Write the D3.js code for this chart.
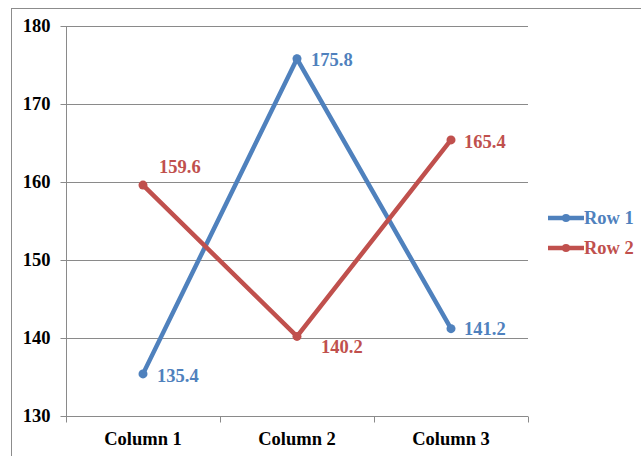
<!DOCTYPE html>
<html>
<head>
<meta charset="utf-8">
<script src="https://cdn.jsdelivr.net/npm/d3@7"></script>
<style>
  body { margin: 0; background: #fff; }
  svg text { font-family: "Liberation Serif", "Times New Roman", serif; font-weight: bold; }
</style>
</head>
<body>
<div id="chart"></div>
<script>
const categories = ['Column 1', 'Column 2', 'Column 3'];
const row1 = [135.4, 175.8, 141.2];
const row2 = [159.6, 140.2, 165.4];
const yTicks = [130, 140, 150, 160, 170, 180];

const w = 641, h = 456;
const padLeft = 66, padRight = 528, padTop = 26, padBottom = 416;
const fontSize = 18.5;

const svg = d3.select('#chart').append('svg')
    .attr('width', w)
    .attr('height', h);

// outer chart border
svg.append('rect')
    .attr('x', 11.5).attr('y', 8.5)
    .attr('width', 700).attr('height', 600)
    .attr('fill', 'none')
    .attr('stroke', '#8c8c8c');

const x = d3.scaleBand().domain(categories).range([padLeft, padRight]);
const y = d3.scaleLinear().domain([130, 180]).range([padBottom, padTop]);
const cx = d => x(d) + x.bandwidth() / 2;

// gridlines
svg.append('g').selectAll('line')
    .data(yTicks.slice(1))
    .enter().append('line')
    .attr('x1', padLeft).attr('x2', padRight)
    .attr('y1', d => y(d) + 0.5).attr('y2', d => y(d) + 0.5)
    .attr('stroke', '#8a8a8a');

const yAxis = d3.axisLeft(y).tickValues(yTicks).tickSize(6).tickPadding(10).tickFormat(d3.format('d'));
svg.append('g')
    .attr('transform', 'translate(' + (padLeft + 0.5) + ',0)')
    .call(yAxis)
    .attr('font-family', null)
    .attr('font-size', null)
    .call(g => g.selectAll('line, path').attr('stroke', '#8a8a8a'))
    .call(g => g.select('.domain').attr('d', 'M0,' + padTop + 'V' + padBottom))
    .call(g => g.selectAll('text').attr('font-size', fontSize).attr('fill', '#000'));

// x axis with separators at band edges
const xg = svg.append('g').attr('transform', 'translate(0,' + (padBottom + 0.5) + ')');
xg.append('line').attr('x1', padLeft).attr('x2', padRight).attr('stroke', '#8a8a8a');
xg.selectAll('.sep')
    .data(categories.concat(['end']))
    .enter().append('line')
    .attr('x1', (d, i) => padLeft + i * x.bandwidth() + 0.5)
    .attr('x2', (d, i) => padLeft + i * x.bandwidth() + 0.5)
    .attr('y1', 0).attr('y2', 6)
    .attr('stroke', '#8a8a8a');
xg.selectAll('text')
    .data(categories)
    .enter().append('text')
    .attr('x', cx)
    .attr('y', 28)
    .attr('text-anchor', 'middle')
    .attr('font-size', fontSize)
    .text(d => d);

const series = [
    { name: 'Row 1', values: row1, color: '#4f81bd', offs: [[14, 8], [14, 7], [13, 6]] },
    { name: 'Row 2', values: row2, color: '#c0504d', offs: [[16, -12], [24, 17], [13, 8]] }
];

const line = d3.line().x((d, i) => cx(categories[i])).y(d => y(d));

series.forEach(s => {
    svg.append('path')
        .datum(s.values)
        .attr('d', line)
        .attr('fill', 'none')
        .attr('stroke', s.color)
        .attr('stroke-width', 4.5)
        .attr('stroke-linejoin', 'miter');
    svg.append('g').selectAll('circle')
        .data(s.values)
        .enter().append('circle')
        .attr('cx', (d, i) => cx(categories[i]))
        .attr('cy', d => y(d))
        .attr('r', 4.5)
        .attr('fill', s.color);
    svg.append('g').selectAll('text')
        .data(s.values)
        .enter().append('text')
        .attr('x', (d, i) => cx(categories[i]) + s.offs[i][0])
        .attr('y', (d, i) => y(d) + s.offs[i][1])
        .attr('font-size', fontSize)
        .attr('fill', s.color)
        .text(d => d3.format('.1f')(d));
});

// legend
const legend = svg.append('g').selectAll('g')
    .data(series)
    .enter().append('g')
    .attr('transform', (d, i) => 'translate(548,' + (218 + i * 30) + ')');
legend.append('line')
    .attr('x1', 0).attr('x2', 36)
    .attr('stroke', d => d.color)
    .attr('stroke-width', 4.5);
legend.append('circle')
    .attr('cx', 18).attr('r', 4)
    .attr('fill', d => d.color);
legend.append('text')
    .attr('x', 36).attr('y', 6)
    .attr('font-size', fontSize)
    .attr('fill', d => d.color)
    .text(d => d.name);
</script>
</body>
</html>
